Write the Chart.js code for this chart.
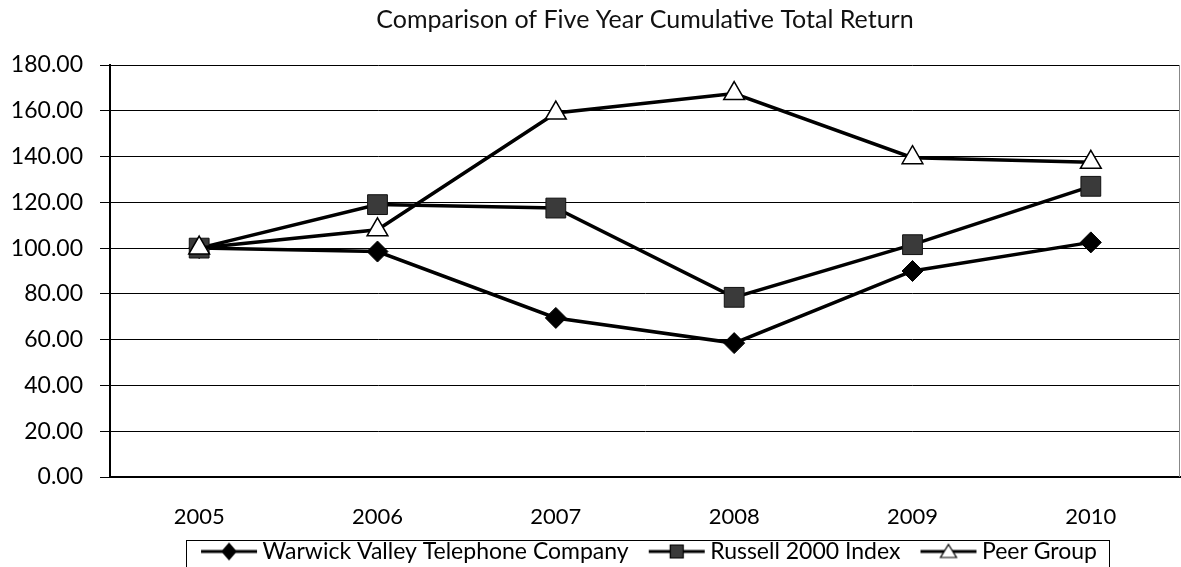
<!DOCTYPE html>
<html>
<head>
<meta charset="utf-8">
<script src="https://cdn.jsdelivr.net/npm/chart.js@4"></script>
<style>
  html, body { margin: 0; padding: 0; background: #fff; }
  #wrap { width: 1181px; height: 567px; }
</style>
</head>
<body>
<div id="wrap"><canvas id="returnChart" width="1181" height="567"></canvas></div>
<script>
// chart data
const years = ['2005', '2006', '2007', '2008', '2009', '2010'];
const warwickValues = [100, 98.5, 69.5, 58.5, 90, 102.5];
const russellValues = [100, 119, 117.5, 78.5, 101.5, 127];
const peerValues = [100, 108, 159, 167.5, 139.5, 137.5];
const seriesNames = ['Warwick Valley Telephone Company', 'Russell 2000 Index', 'Peer Group'];
const yTicks = [0, 20, 40, 60, 80, 100, 120, 140, 160, 180];

const FONT = 'Lato, "Open Sans", sans-serif';

// line + marker swatch for the legend (Excel style).
// Chart.js centres the image on the box, so the left part is left blank
// to push the visible swatch over towards the text.
function legendSwatch(style, fill) {
  const c = document.createElement('canvas');
  c.width = 78; c.height = 20;
  const ctx = c.getContext('2d');
  const x0 = 18, x1 = 74, mid = 46, cy = 10;
  ctx.strokeStyle = '#000';
  ctx.lineWidth = 3;
  ctx.beginPath();
  ctx.moveTo(x0, cy); ctx.lineTo(x1, cy);
  ctx.stroke();
  ctx.fillStyle = fill;
  ctx.lineWidth = 1.2;
  ctx.beginPath();
  if (style === 'diamond') {
    ctx.moveTo(mid, cy - 8); ctx.lineTo(mid + 7, cy); ctx.lineTo(mid, cy + 8); ctx.lineTo(mid - 7, cy);
  } else if (style === 'square') {
    ctx.rect(mid - 6.5, cy - 6.5, 13, 13);
  } else {
    ctx.moveTo(mid, cy - 7); ctx.lineTo(mid + 8, cy + 6); ctx.lineTo(mid - 8, cy + 6);
  }
  ctx.closePath();
  ctx.fill();
  ctx.stroke();
  return c;
}

const swatches = [
  legendSwatch('diamond', '#000'),
  legendSwatch('square', '#3a3a3a'),
  legendSwatch('triangle', '#fff')
];

// centre title and legend over the plot area instead of the whole canvas
const centreOnPlot = {
  id: 'centreOnPlot',
  afterLayout(chart) {
    const mid = (chart.chartArea.left + chart.chartArea.right) / 2;
    [chart.titleBlock, chart.legend].forEach(box => {
      if (!box) return;
      const shift = mid - (box.left + box.right) / 2;
      box.left += shift;
      box.right += shift;
    });
  }
};

// frame round the legend items, and the grey right edge of the plot
const legendFrame = {
  id: 'legendFrame',
  afterDraw(chart) {
    const ctx = chart.ctx;
    const area = chart.chartArea;
    ctx.save();
    ctx.strokeStyle = '#888';
    ctx.lineWidth = 1;
    ctx.beginPath();
    ctx.moveTo(Math.round(area.right) - 0.5, area.top);
    ctx.lineTo(Math.round(area.right) - 0.5, area.bottom);
    ctx.stroke();

    const boxes = chart.legend && chart.legend.legendHitBoxes;
    if (boxes && boxes.length) {
      const left = Math.min(...boxes.map(b => b.left)) - 7;
      const right = Math.max(...boxes.map(b => b.left + b.width)) + 12;
      const top = Math.min(...boxes.map(b => b.top));
      ctx.strokeStyle = '#000';
      ctx.strokeRect(Math.round(left) + 0.5, Math.round(top) + 0.5, Math.round(right - left), 40);
    }
    ctx.restore();
  }
};

new Chart(document.getElementById('returnChart'), {
  type: 'line',
  data: {
    labels: years,
    datasets: [
      {
        label: seriesNames[0],
        data: warwickValues,
        order: 3,
        borderColor: '#000',
        backgroundColor: '#000',
        borderWidth: 3.5,
        pointStyle: 'rectRot',
        pointRadius: 10.5,
        pointBorderColor: '#000',
        pointBackgroundColor: '#000',
        pointBorderWidth: 1,
        tension: 0
      },
      {
        label: seriesNames[1],
        data: russellValues,
        order: 2,
        borderColor: '#000',
        backgroundColor: '#3a3a3a',
        borderWidth: 3.5,
        pointStyle: 'rect',
        pointRadius: 14,
        pointBorderColor: '#111',
        pointBackgroundColor: '#3a3a3a',
        pointBorderWidth: 1,
        tension: 0
      },
      {
        label: seriesNames[2],
        data: peerValues,
        order: 1,
        borderColor: '#000',
        backgroundColor: '#fff',
        borderWidth: 3.5,
        pointStyle: 'triangle',
        pointRadius: 12,
        pointBorderColor: '#000',
        pointBackgroundColor: '#fff',
        pointBorderWidth: 1.5,
        tension: 0
      }
    ]
  },
  options: {
    responsive: false,
    animation: false,
    layout: { autoPadding: false, padding: { left: 6, right: 1, top: 0, bottom: -6 } },
    plugins: {
      title: {
        display: true,
        text: 'Comparison of Five Year Cumulative Total Return',
        color: '#111',
        font: { family: FONT, size: 25, weight: 'normal' },
        padding: { top: 5, bottom: 30 }
      },
      legend: {
        position: 'bottom',
        labels: {
          color: '#000',
          font: { family: FONT, size: 23 },
          usePointStyle: true,
          pointStyleWidth: 58,
          padding: 12,
          generateLabels: (chart) => chart.data.datasets.map((ds, i) => ({
            text: ds.label,
            pointStyle: swatches[i],
            fillStyle: ds.backgroundColor,
            strokeStyle: '#000',
            lineWidth: 0,
            datasetIndex: i
          }))
        }
      },
      tooltip: { enabled: false }
    },
    scales: {
      x: {
        offset: true,
        afterFit: (scale) => { scale.paddingLeft = 0; scale.paddingRight = 0; scale.height = 51; },
        grid: { display: true, drawOnChartArea: false, offset: false, color: '#000', tickLength: 0 },
        border: { color: '#000', width: 2 },
        ticks: { color: '#000', font: { family: FONT, size: 22 }, padding: 27, maxRotation: 0 }
      },
      y: {
        min: 0,
        max: 180,
        afterBuildTicks: (scale) => { scale.ticks = yTicks.map(v => ({ value: v })); },
        afterFit: (scale) => { scale.width = 104; },
        grid: { color: '#000', lineWidth: 1, tickLength: 10 },
        border: { color: '#000', width: 2 },
        ticks: {
          color: '#000',
          font: { family: FONT, size: 23 },
          padding: 17,
          callback: (v) => Number(v).toFixed(2)
        }
      }
    }
  },
  plugins: [centreOnPlot, legendFrame]
});
</script>
</body>
</html>
